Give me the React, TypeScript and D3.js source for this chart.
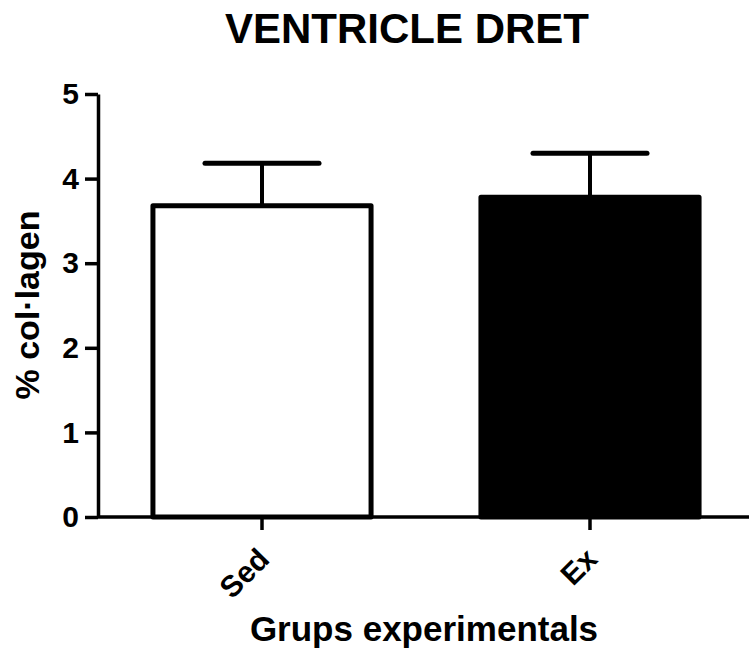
import React, { useEffect, useRef } from 'react';
import * as d3 from 'd3';

// bar chart with upward SEM whiskers
const groups = ['Sed', 'Ex'];
const means = [3.68, 3.78];
const errors = [0.5, 0.52];
const fills = ['#ffffff', '#000000'];
const yTicks = [0, 1, 2, 3, 4, 5];

const W = 749;
const H = 650;

const App = () => {
  const svgRef = useRef<SVGSVGElement>(null);

  useEffect(() => {
    const svg = d3.select(svgRef.current);
    svg.selectAll('*').remove();

    const font = 'Liberation Sans, Arial, sans-serif';
    const axisX = 98;

    const x = d3
      .scaleBand<string>()
      .domain(groups)
      .range([axisX, 754])
      .paddingInner(0.335)
      .paddingOuter(0.1675);

    const y = d3.scaleLinear().domain([0, 5]).range([517, 94]);

    const data = groups.map((g, i) => ({ g, m: means[i], e: errors[i], fill: fills[i] }));

    // error whiskers (up only)
    const capHalf = 57;
    data.forEach(d => {
      const cx = x(d.g)! + x.bandwidth() / 2;
      svg
        .append('line')
        .attr('x1', cx)
        .attr('x2', cx)
        .attr('y1', y(d.m))
        .attr('y2', y(d.m + d.e))
        .attr('stroke', '#000')
        .attr('stroke-width', 4);
      svg
        .append('line')
        .attr('x1', cx - capHalf)
        .attr('x2', cx + capHalf)
        .attr('y1', y(d.m + d.e))
        .attr('y2', y(d.m + d.e))
        .attr('stroke', '#000')
        .attr('stroke-width', 5)
        .attr('stroke-linecap', 'round');
    });

    // bars
    svg
      .selectAll('rect.bar')
      .data(data)
      .enter()
      .append('rect')
      .attr('class', 'bar')
      .attr('x', d => x(d.g)!)
      .attr('y', d => y(d.m))
      .attr('width', x.bandwidth())
      .attr('height', d => y(0) - y(d.m))
      .attr('fill', d => d.fill)
      .attr('stroke', '#000')
      .attr('stroke-width', 5)
      .attr('stroke-linejoin', 'round');

    // y axis
    const yAxis = svg
      .append('g')
      .attr('transform', `translate(${axisX},0)`)
      .call(d3.axisLeft(y).tickValues(yTicks).tickFormat(d3.format('d')).tickSize(13).tickSizeOuter(0));
    yAxis.select('.domain').attr('stroke-width', 3.5);
    yAxis.selectAll('.tick line').attr('stroke-width', 3.5);
    yAxis
      .selectAll('.tick text')
      .attr('font-family', font)
      .attr('font-weight', 'bold')
      .attr('font-size', 30)
      .attr('fill', '#000')
      .attr('dx', -3);

    // x axis
    const xAxis = svg
      .append('g')
      .attr('transform', `translate(0,${y(0)})`)
      .call(d3.axisBottom(x).tickSize(13).tickSizeOuter(0));
    xAxis
      .select('.domain')
      .attr('d', `M${axisX},0H${W}`)
      .attr('stroke-width', 3.5);
    xAxis.selectAll('.tick line').attr('stroke-width', 3.5);
    xAxis
      .selectAll('.tick text')
      .attr('font-family', font)
      .attr('font-weight', 'bold')
      .attr('font-size', 30)
      .attr('fill', '#000')
      .attr('text-anchor', 'end')
      .attr('y', 0)
      .attr('dy', 0)
      .attr('transform', 'translate(9,44) rotate(-45)');

    // titles
    svg
      .append('text')
      .attr('x', 407)
      .attr('y', 43)
      .attr('text-anchor', 'middle')
      .attr('font-family', font)
      .attr('font-weight', 'bold')
      .attr('font-size', 42)
      .text('VENTRICLE DRET');

    svg
      .append('text')
      .attr('x', 424)
      .attr('y', 641)
      .attr('text-anchor', 'middle')
      .attr('font-family', font)
      .attr('font-weight', 'bold')
      .attr('font-size', 35)
      .text('Grups experimentals');

    svg
      .append('text')
      .attr('transform', 'translate(39,305) rotate(-90)')
      .attr('text-anchor', 'middle')
      .attr('font-family', font)
      .attr('font-weight', 'bold')
      .attr('font-size', 34)
      .text('% col·lagen');
  }, []);

  return (
    <svg
      ref={svgRef}
      width={W}
      height={H}
      style={{ position: 'absolute', left: 0, top: 0, background: '#fff' }}
    />
  );
};

export default App;
